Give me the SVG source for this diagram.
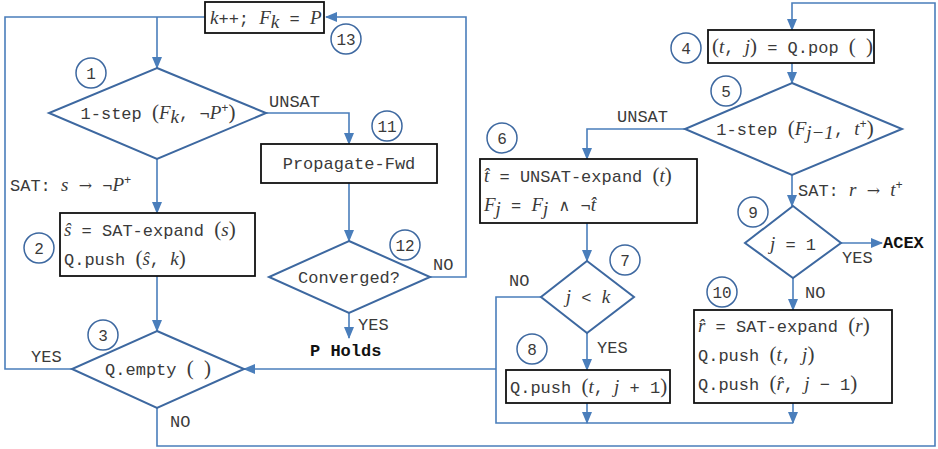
<svg xmlns="http://www.w3.org/2000/svg" width="938" height="449" viewBox="0 0 938 449">
<defs>
<marker id="ah" markerUnits="userSpaceOnUse" markerWidth="12" markerHeight="10" refX="11" refY="5" orient="auto">
<path d="M0,0 L12,5 L0,10 Z" fill="#4A7EBB"/>
</marker>
<style>
.c{fill:none;stroke:#4A7EBB;stroke-width:1.6}
.a{marker-end:url(#ah)}
.box{fill:#fff;stroke:#111;stroke-width:1.8}
.dia{fill:#fff;stroke:#3D68A0;stroke-width:2}
.cir{fill:#fff;stroke:#3D68A0;stroke-width:1.5}
.t{font-family:"Liberation Mono",monospace;font-size:17px;fill:#3a3a3a}
.n{font-family:"Liberation Mono",monospace;font-size:16px;fill:#3a3a3a;text-anchor:middle}
.b{font-family:"Liberation Mono",monospace;font-size:17px;font-weight:bold;fill:#111}
.i{font-family:"Liberation Serif",serif;font-style:italic;font-size:19px}
.p{font-family:"Liberation Serif",serif;font-size:21px}
.o{font-family:"DejaVu Serif","Liberation Serif",serif;font-size:16px}
.m{text-anchor:middle}
</style>
</defs>
<g id="connectors">
<path class="c" d="M72,369 H5 V17 H205"/>
<path class="c a" d="M157,17 V68"/>
<path class="c a" d="M430,277 H466 V17 H326"/>
<path class="c a" d="M266,113 H349 V144"/>
<path class="c a" d="M157,159 V213"/>
<path class="c a" d="M349,183 V241"/>
<path class="c a" d="M349,313 V338"/>
<path class="c a" d="M157,276 V331"/>
<path class="c a" d="M157,408 V446 H935 V3 H792 V30"/>
<path class="c a" d="M792,63 V83"/>
<path class="c a" d="M685,129 H587 V159"/>
<path class="c a" d="M792,175 V206"/>
<path class="c a" d="M587,223 V261"/>
<path class="c a" d="M587,333 V370"/>
<path class="c" d="M541,297 H496 V423 H793"/>
<path class="c a" d="M496,369 H244"/>
<path class="c a" d="M587,403 V423"/>
<path class="c a" d="M793,403 V423"/>
<path class="c a" d="M841,243 H882"/>
<path class="c a" d="M793,278 V310"/>
</g>
<g id="labels">
<text class="t" x="269" y="107">UNSAT</text>
<text class="t" x="10" y="191">SAT: <tspan class="i">s</tspan> <tspan class="o">→</tspan> ¬<tspan class="i">P</tspan><tspan dy="-7" font-size="12">+</tspan></text>
<text class="t" x="433" y="270">NO</text>
<text class="t" x="358" y="330">YES</text>
<text class="b" x="310" y="356">P Holds</text>
<text class="t" x="31" y="362">YES</text>
<text class="t" x="170" y="427">NO</text>
<text class="t" x="617" y="122">UNSAT</text>
<text class="t" x="798" y="196">SAT: <tspan class="i">r</tspan> <tspan class="o">→</tspan> <tspan class="i">t</tspan><tspan dy="-7" font-size="12">+</tspan></text>
<text class="t" x="509" y="286">NO</text>
<text class="t" x="597" y="353">YES</text>
<text class="t" x="842" y="263">YES</text>
<text class="t" x="805" y="298">NO</text>
<text class="b" x="883" y="248">ACEX</text>
</g>
<g id="n13">
<rect class="box" x="205" y="2" width="119" height="31"/>
<text class="t" x="210" y="24"><tspan class="i">k</tspan>++; <tspan class="i">F</tspan><tspan class="i" dy="4" font-size="12">k</tspan><tspan dy="-4">  =  </tspan><tspan class="i">P</tspan></text>
<circle class="cir" cx="346" cy="39" r="15"/><text class="n" x="346" y="45">13</text>
</g>
<g id="n1">
<polygon class="dia" points="157,68 266,113 157,159 49,113"/>
<text class="t m" x="158" y="119">1-step <tspan class="p">(</tspan><tspan class="i">F</tspan><tspan class="i" dy="4" font-size="12">k</tspan><tspan dy="-4">, ¬</tspan><tspan class="i">P</tspan><tspan dy="-7" font-size="12">+</tspan><tspan class="p" dy="7">)</tspan></text>
<circle class="cir" cx="91" cy="73" r="15"/><text class="n" x="91" y="79">1</text>
</g>
<g id="n11">
<rect class="box" x="261" y="144" width="176" height="39"/>
<text class="t m" x="349" y="169">Propagate-Fwd</text>
<circle class="cir" cx="387" cy="126" r="15"/><text class="n" x="387" y="132">11</text>
</g>
<g id="n12">
<polygon class="dia" points="349,241 430,277 349,313 269,277"/>
<text class="t m" x="349" y="283">Converged?</text>
<circle class="cir" cx="405" cy="245" r="15"/><text class="n" x="405" y="251">12</text>
</g>
<g id="n2">
<rect class="box" x="60" y="213" width="195" height="63"/>
<text class="t" x="64" y="236"><tspan class="i">ŝ</tspan>  =  SAT-expand <tspan class="p">(</tspan><tspan class="i">s</tspan><tspan class="p">)</tspan></text>
<text class="t" x="64" y="265">Q.push <tspan class="p">(</tspan><tspan class="i">ŝ</tspan>, <tspan class="i">k</tspan><tspan class="p">)</tspan></text>
<circle class="cir" cx="39" cy="248" r="15"/><text class="n" x="39" y="254">2</text>
</g>
<g id="n3">
<polygon class="dia" points="157,331 244,369 157,408 72,369"/>
<text class="t m" x="158" y="375">Q.empty <tspan class="p">(</tspan> <tspan class="p">)</tspan></text>
<circle class="cir" cx="103" cy="335" r="15"/><text class="n" x="103" y="341">3</text>
</g>
<g id="n4">
<rect class="box" x="708" y="30" width="166" height="33"/>
<text class="t" x="712" y="53"><tspan class="p">(</tspan><tspan class="i">t</tspan>, <tspan class="i">j</tspan><tspan class="p">)</tspan>  =  Q.pop <tspan class="p">(</tspan> <tspan class="p">)</tspan></text>
<circle class="cir" cx="686" cy="48" r="15"/><text class="n" x="686" y="54">4</text>
</g>
<g id="n5">
<polygon class="dia" points="792,83 902,129 792,175 685,129"/>
<text class="t m" x="795" y="135">1-step <tspan class="p">(</tspan><tspan class="i">F</tspan><tspan class="i" dy="4" font-size="12">j−1</tspan><tspan dy="-4">, </tspan><tspan class="i">t</tspan><tspan dy="-7" font-size="12">+</tspan><tspan class="p" dy="7">)</tspan></text>
<circle class="cir" cx="726" cy="91" r="15"/><text class="n" x="726" y="97">5</text>
</g>
<g id="n6">
<rect class="box" x="480" y="159" width="217" height="64"/>
<text class="t" x="484" y="182"><tspan class="i">t̂</tspan>  =  UNSAT-expand <tspan class="p">(</tspan><tspan class="i">t</tspan><tspan class="p">)</tspan></text>
<text class="t" x="484" y="211"><tspan class="i">F</tspan><tspan class="i" dy="4" font-size="12">j</tspan><tspan dy="-4">  =  </tspan><tspan class="i">F</tspan><tspan class="i" dy="4" font-size="12">j</tspan><tspan dy="-4"> </tspan><tspan class="o">∧</tspan> ¬<tspan class="i">t̂</tspan></text>
<circle class="cir" cx="502" cy="138" r="15"/><text class="n" x="502" y="144">6</text>
</g>
<g id="n7">
<polygon class="dia" points="587,261 634,297 587,333 541,297"/>
<text class="t m" x="588" y="303"><tspan class="i">j</tspan> &lt; <tspan class="i">k</tspan></text>
<circle class="cir" cx="625" cy="260" r="15"/><text class="n" x="625" y="266">7</text>
</g>
<g id="n8">
<rect class="box" x="506" y="370" width="164" height="33"/>
<text class="t" x="510" y="393">Q.push <tspan class="p">(</tspan><tspan class="i">t</tspan>, <tspan class="i">j</tspan> + 1<tspan class="p">)</tspan></text>
<circle class="cir" cx="532" cy="349" r="15"/><text class="n" x="532" y="355">8</text>
</g>
<g id="n9">
<polygon class="dia" points="793,206 841,243 793,278 745,243"/>
<text class="t m" x="793" y="250"><tspan class="i">j</tspan> = 1</text>
<circle class="cir" cx="753" cy="212" r="15"/><text class="n" x="753" y="218">9</text>
</g>
<g id="n10">
<rect class="box" x="694" y="310" width="198" height="93"/>
<text class="t" x="698" y="332"><tspan class="i">r̂</tspan>  =  SAT-expand <tspan class="p">(</tspan><tspan class="i">r</tspan><tspan class="p">)</tspan></text>
<text class="t" x="698" y="361">Q.push <tspan class="p">(</tspan><tspan class="i">t</tspan>, <tspan class="i">j</tspan><tspan class="p">)</tspan></text>
<text class="t" x="698" y="390">Q.push <tspan class="p">(</tspan><tspan class="i">r̂</tspan>, <tspan class="i">j</tspan> − 1<tspan class="p">)</tspan></text>
<circle class="cir" cx="722" cy="292" r="15"/><text class="n" x="722" y="298">10</text>
</g>
</svg>
